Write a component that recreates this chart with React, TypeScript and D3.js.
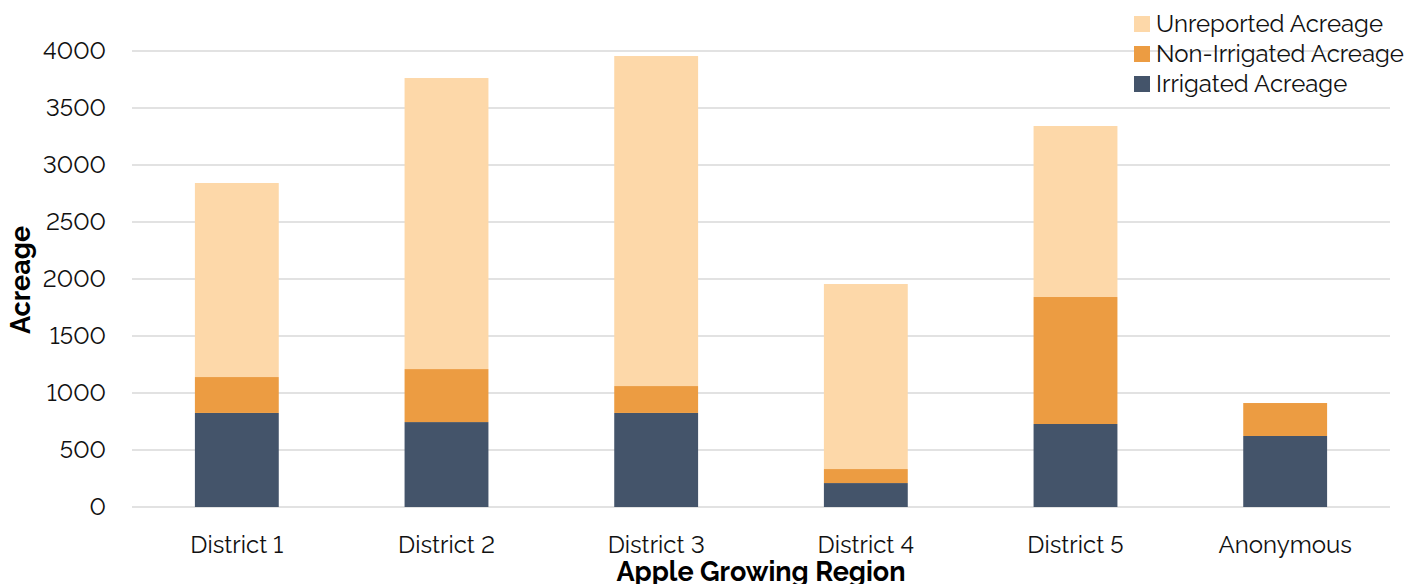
import React from "react";
import * as d3 from "d3";

const categories = ["District 1", "District 2", "District 3", "District 4", "District 5", "Anonymous"];
const irrigated = [825, 745, 825, 210, 728, 623];
const nonIrrigated = [315, 465, 236, 123, 1114, 289];
const unreported = [1702, 2553, 2895, 1623, 1500, 0];
const yTicks = [0, 500, 1000, 1500, 2000, 2500, 3000, 3500, 4000];
const seriesNames = ["Irrigated Acreage", "Non-Irrigated Acreage", "Unreported Acreage"];
const colors = ["#44546a", "#ec9c42", "#fdd8a9"];

const W = 1422, H = 584;
const left = 132, right = 1390, top = 51, bottom = 507;
const FONT = "Raleway, Lato, 'Open Sans', sans-serif";

export default function App() {
  const x = d3.scaleBand<string>().domain(categories).range([left, right]).paddingInner(0.6).paddingOuter(0.3);
  const y = d3.scaleLinear().domain([0, 4000]).range([bottom, top]);
  const rows = categories.map((c, i) => ({ cat: c, irr: irrigated[i], non: nonIrrigated[i], unr: unreported[i] }));
  const stack = d3.stack<any>().keys(["irr", "non", "unr"])(rows);
  const legendOrder = [2, 1, 0];
  return (
    <svg width={W} height={H} style={{ position: "absolute", left: 0, top: 0, fontVariantNumeric: "lining-nums" }} fontFamily={FONT}>
      {yTicks.map((t) => (
        <g key={t}>
          <line x1={left} x2={right} y1={y(t)} y2={y(t)} stroke="#d9d9d9" strokeWidth={1.5} />
          <text x={106} y={y(t)} dy="0.35em" textAnchor="end" fontSize={24} fill="#111">{t}</text>
        </g>
      ))}
      {stack.map((s, si) => (
        <g key={si}>
          {s.map((d, i) => d[1] - d[0] > 0 ? (
            <rect key={i} x={x(categories[i])} width={x.bandwidth()} y={y(d[1])} height={y(d[0]) - y(d[1])} fill={colors[si]} />
          ) : null)}
        </g>
      ))}
      {categories.map((c) => (
        <text key={c} x={(x(c) as number) + x.bandwidth() / 2} y={553} textAnchor="middle" fontSize={24} fill="#111">{c}</text>
      ))}
      <text x={761} y={581} textAnchor="middle" fontSize={27} fontWeight="bold" fill="#000">Apple Growing Region</text>
      <text transform="translate(30,280) rotate(-90)" textAnchor="middle" fontSize={27} fontWeight="bold" fill="#000">Acreage</text>
      {legendOrder.map((si, k) => (
        <g key={si}>
          <rect x={1134} y={16 + k * 30} width={16} height={16} fill={colors[si]} />
          <text x={1156} y={24 + k * 30} dy="0.35em" fontSize={24} fill="#111">{seriesNames[si]}</text>
        </g>
      ))}
    </svg>
  );
}
